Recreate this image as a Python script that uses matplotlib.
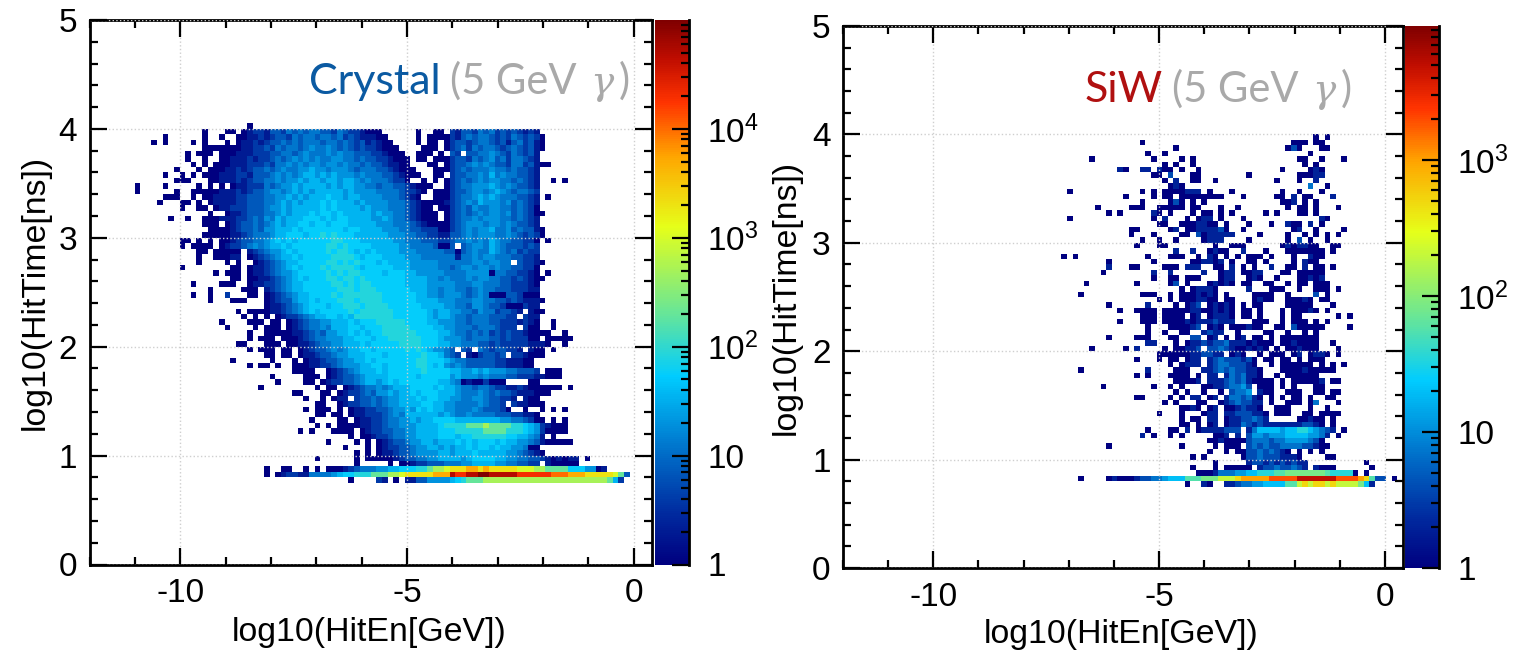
import numpy as np
import matplotlib
matplotlib.use('Agg')
import matplotlib.pyplot as plt
from matplotlib.colors import LinearSegmentedColormap, LogNorm
from matplotlib.ticker import FixedLocator, FixedFormatter, MultipleLocator, NullFormatter

plt.rcParams['font.family'] = ['Liberation Sans', 'DejaVu Sans']
plt.rcParams['axes.unicode_minus'] = False
plt.rcParams['mathtext.fontset'] = 'custom'
plt.rcParams['mathtext.rm'] = 'Liberation Sans'

LEVEL_COUNTS = {'1': 1, '2': 2, '3': 4, '4': 7, '5': 12, '6': 20, '7': 35, '8': 56, '9': 85,
                'a': 200, 'b': 500, 'c': 1000, 'd': 2000, 'e': 5000, 'f': 1e4, 'g': 2e4,
                'h': 5e4, 'i': 1e5}

# Crystal: rows from log10(t)=4.0-4.05 down to 0.75-0.8, groups of ten bins from log10(E)=-12
CRYSTAL_TOP_ROW = 80
CRYSTAL_ROWS = [
    ". . ........1.",
    ". . 1...11.123 3244354545 5443543321 11......1. .11.324435 4534343232",
    ". ...1...... 1..1..1122 3234435455 4554534322 211.....1. 1111324545 5434354343 1",
    ". .1.1....1. 1...1.1223 2344545455 5455454342 3211....1. 11.1344345 5434245342 1",
    ". . 1111111223 3435455456 5565454343 32111....1 11.1345354 5543454342 1",
    ". .......1.1 11.1112223 3344554565 5565655444 332111..11 1.1.43.445 5654354342",
    ". .......1.. 1..1122232 3345456565 6556655454 4332111.11 .111344354 5645355432",
    ". ........1. 1.11122233 3435565656 6566565545 4432211... 11.1344565 6544355342 11",
    ". .....1...1 .111223234 4545655667 6656665455 54432111.. .111345455 5655454432",
    ". ...1..1.1. 1112223324 4456565677 6767666565 554432111. .11.344556 5756554432",
    ". .....111.. .112223234 4556566767 7677677656 5554331..1 .1.1345456 5665545432 ..1.1",
    "........1. ...1.....1 .1.1.12233 3545667677 7767677665 5455443211 1..1345566 6765654432",
    "........1. .....1..11 1112223234 4566567676 7777767666 6555543321 .111344566 5676545543",
    ". ...111..1. 1122223344 4556676767 7787767766 665554321. .111345567 6765554432 .1",
    ". ..1...11.1 .122223344 4556767677 7878777676 6665554321 1112345657 6665645432",
    ". ......1..1 1.12233344 4566767777 7878777767 6665554321 1.11345465 5665545431",
    ". . .1..122344 4556767778 7887877777 6766554321 11.1345456 5665645431 1",
    ". ....1..1.. 1112223345 4657677788 8787887777 6676554321 11.1345565 6665545432",
    ". . 111.123445 4567677887 8878887777 7666555432 1111345666 5665654432",
    ". . .111123445 4667778788 8888878877 7766655443 3311345656 6755645442 1",
    ". . 1111122345 5567788878 8989888777 7776665544 3322445656 6655654343 1",
    ". ......11.1 .1.1123445 5678787888 8889988877 7777665554 4433455656 5765544331 .1",
    ". ......1.11 11.1233456 5677878888 8899898888 7777766555 54114.4566 5765444343",
    ". .........1 1.11111.23 4566787888 8898998787 8777766655 5554414565 5765453433",
    ". .........1 ..11122.12 3456778788 8889999878 8877776665 5555525565 6655544332",
    ". .........1 ....1.1..1 2345677888 8899898988 8787777666 6655555566 56655.4332 1",
    ". ......1... .....11.12 2345678788 8989999878 8888777666 6655456656 6565544331",
    ". . ..1.111.12 2345667888 8898989988 8878887766 6665555666 6155443321 .1",
    ". . .....11.11 2234567878 8899899898 8888887777 6656555656 6554434321 1",
    ". ........1. ...111..12 2334567788 8889989899 8888887777 6666655566 5554433321",
    ". . .1.....111 .234567788 8888999899 9888888777 6656655456 5544433322",
    ". ........1. .1..3...11 .123456778 8889899999 9988888877 6656665456 5111443111",
    ". . .1...111.. .123446778 7888999899 9988888877 7766655566 5544343222 1",
    ". . . .122345678 8878899989 9998888887 7776655466 5443111322",
    ". . ......1.11 1122345678 7888889899 9999888888 7677665546 5534432.21 1",
    ". . .......1.1 .1.1233456 7788787999 9999888888 7677655455 544433.322",
    ". . ...1....11 1.11.12345 5667778788 8999998888 7766655455 5443332321 ..1",
    ". . ....1....1 .111.12345 5657778878 8899999888 8776655545 554333.311 ..1",
    ". . ........1. .111112234 5466778787 8899999988 8877655454 5343433211 11..1",
    ". . ........1. 111.111234 5566677888 7889999998 8876665455 5443433311 .11111",
    ". . ......11.. .111.11223 4556677787 8888899998 8877665554 4343333322 21..1",
    ". . ........1. 111.11.123 4456567788 7888889898 76654.43.5 4344332.21 1.1",
    ". . . .11.11.122 3445667778 8878888889 887543.213 4434.33211 1",
    ". . .....1.... ..1...1.12 2344566778 7888888899 8887655444 443322211.",
    ". . ........1. 11.1..1112 2334566677 8878888899 8786565444 443322211.",
    ". . . ......1111 ..12345677 7878888889 8888776676 7666554443 .111",
    ". . . ..1.....11 1.12344567 7778888878 8888676665 6555443332 2111",
    ". . . ...1....11 .123344567 7678788888 8877651211 3111....11",
    ". . . 1......... 1.11.12345 5656777888 8787765545 5433223211 1111.1",
    ". . . ......11.. .11.123345 4667677878 8877765556 5454432221 11",
    ". . . ........1. .1.122.344 5456677787 8877665566 544332.211",
    ". . . . 11..123344 5456677778 8776655556 5443.32211 1",
    ". . . ........1. 111.1.1223 3445667687 8776655565 44431..1.. 1.1.1",
    ". . . . 11.11.1223 3345657777 7767655655 5544433221",
    ". . . .........1 ....11.122 3345566767 7888877777 7776655431 1.1.1",
    ". . . . 1.1.111122 3345566677 7789999aaa baaaa99876 32111",
    ". . . .......1.1 ...1111.12 3344556677 7788899999 aaaa999876 31111",
    ". . . . ......1.11 2334556677 7788878899 9999887765 2.1",
    ". . . . ..1....1.1 .123445667 7677787878 8878776654 211111",
    ". . . . .....1...1 .123344566 7767677878 8787766511",
    ". . . . .......1.1 .122344566 6677677787 7777665432 1",
    ". . . . 1......1.1 1111234455 6677776788 8877665544 3212122.1",
    ". . . . .......1.. ...1.11233 4445556677 7766554433 .211111",
    ". . . .1..11..1. 1.11123455 5667788899 abbcdddeed edddddcccb baaaa88866 12",
    ". . . .1.1233225 5556788999 aaabbcdddd deeehgghhi ihhhhhgggg ggfffeeedd dddca4",
    ". . . . ......1... .32.1.2244 6666789aaa bbbbbbbbbb bbbbbbbbbb bba73",
]

# SiW: rows from log10(t)=3.95-4.0 down to 0.75-0.8, groups of ten bins from bin 30
SIW_TOP_ROW = 79
SIW_FIRST_BIN = 30
SIW_ROWS = [
    ". . . . . ....1.1",
    ". . ...1...... . . 111.11",
    ". . .........1 . .........1 31...11",
    ". . ....1..1.. . . ...1",
    ". ....1..... .....1.... 1.1....... . .11..1...1",
    ". . .......1.1 ..1....... . ..1.1",
    ". .........2 1..22.211. 1..1...... ........1. ...121",
    ". . .....11.3. ..11...... ..1....... .11122",
    ". . .......1.2 ..11..1... .......1.. .1..2",
    ". . ........12 1......... . ...4..1",
    ". 1......... ...1.1.111 1222.1...1 ........1. .1...1",
    ". . 1....1.11. 11111111.. .1.....11. 2.11...2",
    ". . ...1....13 1.1.1..... ........11 2.1.1",
    ". .....1.... .111..1111 1.11...1.. 1........1 .11.1...1",
    ". .......1.1 .....21.1. ..1.11.1.1 .....1.1.. .11.1",
    ". 1......... .....1.2.. .1.122.1.. .1........ .....21",
    ". . ......11.. 1112211.1. ..1...1..2 11.2.1",
    ". . .11.....12 .11222231. .1........ 12..1....1",
    ". . .1...1.... 11.3122222 ....1....1 ..1.1.1.1",
    ". . ...1..1..1 ....1222.. ..1......1 .3.1..1",
    ". . ..1...11.. ......1..1 11......12 12211..11",
    ". . .........2 ..2..1211. .2...1...1 111111.1",
    ".........1 .1........ ....1...11 1..1.21.1. 1.111.1... 1..211",
    ". .......1.. .....1.... ..112212.1 ..11.1.... 1.211",
    ". .......2.. .11....111 .222..11.2 .1.1..2..1 1.2.11.1",
    ". ......1... .....2..2. ....2..122 .1122...11 .11111",
    ". . .....1..11 .111...122 ..121..1.. .11212",
    ". ...1...... ..1.....13 .1...12121 .11..11..1 .11.111",
    ". . . 1.12221... ..2...111. .1..111.1",
    ". ..1....... ...111..1. 1112121.1. ...1111..1 ....3.1",
    ". . ......1.1. 1112211.11 ...1211..1 1121.11",
    ". .......1.. ....2....1 .123.12121 .1.11....1 1111...1",
    ". .........1 ..1111.111 1122112121 .11.1...1. 11121.1",
    ". . ...111.111 1.12.12221 .11.1...1. 11......1. 1",
    ". .........1 ...111.111 1212223222 ...111..1. 111.1.1",
    ". . ....1...11 1123.121.1 11211..11. 311111 1",
    ". . ....1..1.. 11..2322.. 1....11..1 ..1.1",
    ". .......1.. ..111...11 ..33.12.1. 12.11.1.11 11111",
    ". . ....22...1 .122323342 2212111.11 21111..1",
    ". ....1..... 1.2....1.1 1223.33432 112121.1.1 12111...1",
    ". . ......1111 11223322.1 21..1.111. 12.1221.1",
    ". . ..1...1.11 .122.23433 3231.11.11 .1.111",
    ". . ........1. 1222.23443 3321..1.11 1111.1.1.1",
    ". ..1....... ....2....1 11..223434 33221...11 11211111",
    ". . ..1.1...11 11.1.22.24 34221..1.1 11111",
    ". . .........1 1112.22234 3421111.1. 111112.11",
    ". ......1... .....1..1. 1...112234 453.111.1. 1...11",
    ". . .........1 .1..1..1.3 445.211..1 11..11.11",
    ". . ..11....1. 1.22.12.24 43421.1.1. 11.1..11",
    ". . .......1.1 ...11..123 43322.1..1 11.14...1",
    ". . . 1121.12.11 23221..111 ...1..1",
    ". . ......1... 1...122.22 333221.111 ..11.1111",
    ". . . 1.11.22.12 233432.... .11211.1",
    ". . . 11.1.12.12 2432322222 223321.1",
    ". . ....1...11 .2.1222233 3.24666656 67765432.1",
    ". . ...2.1..1. 1.....112. 2.35545556 6665542.1",
    ". . . .....11211 1134443445 555431",
    ". .......1.. . 1.....1.11 1.34343344 4433211",
    ". . . .....1..1. 1133434321 .1.1.1",
    ". . . ..1.1..... .133433322 21....11",
    ". . . ......1... ..23323232 322 ...1",
    ". . . ..1...1.11 111.233433 432.2111 ....1",
    ". . . ...1112444 5566777889 9999998777 71.1",
    ". ..1....121 1123344566 6888999aaa bcccccdddd deeeeeeedd ddcb833.1",
    ". . . .1..21..22 3445566668 8ababbabaa aa962",
]

X_LIMITS = (-12, 0.4)
Y_LIMITS = (0, 5)
N_X_BINS = 100
N_Y_BINS = 100
CRYSTAL_VMAX = 1e5
SIW_VMAX = 9700
CRYSTAL_CBAR_TICKS = [1, 10, 100, 1000, 10000]
CRYSTAL_CBAR_LABELS = ['1', '10', r'$\mathregular{10^{2}}$', r'$\mathregular{10^{3}}$', r'$\mathregular{10^{4}}$']
SIW_CBAR_TICKS = [1, 10, 100, 1000]
SIW_CBAR_LABELS = ['1', '10', r'$\mathregular{10^{2}}$', r'$\mathregular{10^{3}}$']

W, H = 1521, 654
cmap = LinearSegmentedColormap.from_list('palette', [
    (0.0, (0, 0, 0.5)), (0.09, (0, 0.16, 0.62)), (0.2, (0, 0.42, 0.78)), (0.345, (0, 0.8, 1)),
    (0.46, (0.4, 0.9, 0.6)), (0.62, (0.9, 1, 0.1)), (0.75, (1, 0.65, 0)), (0.85, (1, 0.2, 0)),
    (0.93, (0.75, 0.05, 0)), (1.0, (0.5, 0, 0))])


def rows_to_counts(rows, top_row, first_bin=0):
    counts = np.full((N_Y_BINS, N_X_BINS), np.nan)
    for r, text in enumerate(rows):
        cells = ''.join(g.ljust(10, '.') for g in text.split())
        for c, ch in enumerate(cells):
            if ch != '.':
                counts[top_row - r, first_bin + c] = LEVEL_COUNTS[ch]
    return np.ma.masked_invalid(counts)


def px_axes(x0, y0, x1, y1):
    return fig.add_axes([x0 / W, 1 - y1 / H, (x1 - x0) / W, (y1 - y0) / H])


def draw_panel(box, cbar_box, counts, vmax, cticks, clabels):
    ax = px_axes(*box)
    xedges = np.linspace(X_LIMITS[0], X_LIMITS[1], N_X_BINS + 1)
    yedges = np.linspace(Y_LIMITS[0], Y_LIMITS[1], N_Y_BINS + 1)
    norm = LogNorm(vmin=1, vmax=vmax)
    mesh = ax.pcolormesh(xedges, yedges, counts, cmap=cmap, norm=norm, linewidth=0, rasterized=True)
    ax.set_xlim(*X_LIMITS)
    ax.set_ylim(*Y_LIMITS)
    ax.xaxis.set_major_locator(FixedLocator([-10, -5, 0]))
    ax.xaxis.set_minor_locator(MultipleLocator(1))
    ax.yaxis.set_major_locator(MultipleLocator(1))
    ax.yaxis.set_minor_locator(MultipleLocator(0.2))
    ax.tick_params(which='both', direction='in', top=True, right=True, width=1.6, color='black')
    ax.tick_params(which='major', length=12, labelsize=24)
    ax.tick_params(which='minor', length=6)
    ax.tick_params(axis='x', which='major', pad=10)
    ax.tick_params(axis='y', which='major', pad=9)
    for s in ax.spines.values():
        s.set_linewidth(2)
    ax.grid(True, which='major', color='#cfcfcf', linestyle=':', linewidth=1)
    ax.set_axisbelow(False)

    cax = px_axes(*cbar_box)
    cb = fig.colorbar(mesh, cax=cax)
    cb.outline.set_visible(False)
    cax.spines['right'].set_visible(True)
    cax.spines['right'].set_linewidth(2)
    cax.yaxis.set_major_locator(FixedLocator(cticks))
    cax.yaxis.set_major_formatter(FixedFormatter(clabels))
    minors = [d * m for d in cticks for m in range(2, 10) if d * m < vmax]
    cax.yaxis.set_minor_locator(FixedLocator(minors))
    cax.yaxis.set_minor_formatter(NullFormatter())
    cax.tick_params(which='both', direction='in', right=True, left=False, width=1.6, color='black')
    cax.tick_params(which='major', length=12, labelsize=24, pad=13)
    cax.tick_params(which='minor', length=6)
    return ax


fig = plt.figure(figsize=(W / 100, H / 100), dpi=100)

crystal = rows_to_counts(CRYSTAL_ROWS, CRYSTAL_TOP_ROW)
siw = rows_to_counts(SIW_ROWS, SIW_TOP_ROW, SIW_FIRST_BIN)

draw_panel((89.5, 20, 652, 564.5), (655, 20, 689, 564.5), crystal, CRYSTAL_VMAX, CRYSTAL_CBAR_TICKS, CRYSTAL_CBAR_LABELS)
draw_panel((843, 26, 1403, 568), (1405, 26, 1439, 568), siw, SIW_VMAX, SIW_CBAR_TICKS, SIW_CBAR_LABELS)

# axis titles
fig.text(369 / W, 1 - 633 / H, 'log10(HitEn[GeV])', ha='center', va='center', fontsize=24.4)
fig.text(1121 / W, 1 - 635 / H, 'log10(HitEn[GeV])', ha='center', va='center', fontsize=24.4)
fig.text(35 / W, 1 - 292 / H, 'log10(HitTime[ns])', ha='center', va='center', rotation=90, fontsize=24.4)
fig.text(786 / W, 1 - 297 / H, 'log10(HitTime[ns])', ha='center', va='center', rotation=90, fontsize=24.4)

# panel annotations
GREY = '#a9a9a9'
for name, colour, x_name, x_open, x_gamma, x_close, base in [
        ('Crystal', '#0b5aa2', 309, 450, 590, 619, 94),
        ('SiW', '#b01010', 1085, 1172, 1312, 1341, 102)]:
    fig.text(x_name / W, 1 - base / H, name, color=colour, fontsize=31, family='Lato', va='baseline')
    fig.text(x_open / W, 1 - base / H, '(5 GeV', color=GREY, fontsize=30, family='Lato', va='baseline')
    fig.text(x_gamma / W, 1 - base / H, '\u03b3', color=GREY, fontsize=28, family='DejaVu Serif', style='italic', va='baseline')
    fig.text(x_close / W, 1 - base / H, ')', color=GREY, fontsize=30, family='Lato', va='baseline')

fig.savefig('out.png', dpi=100)
